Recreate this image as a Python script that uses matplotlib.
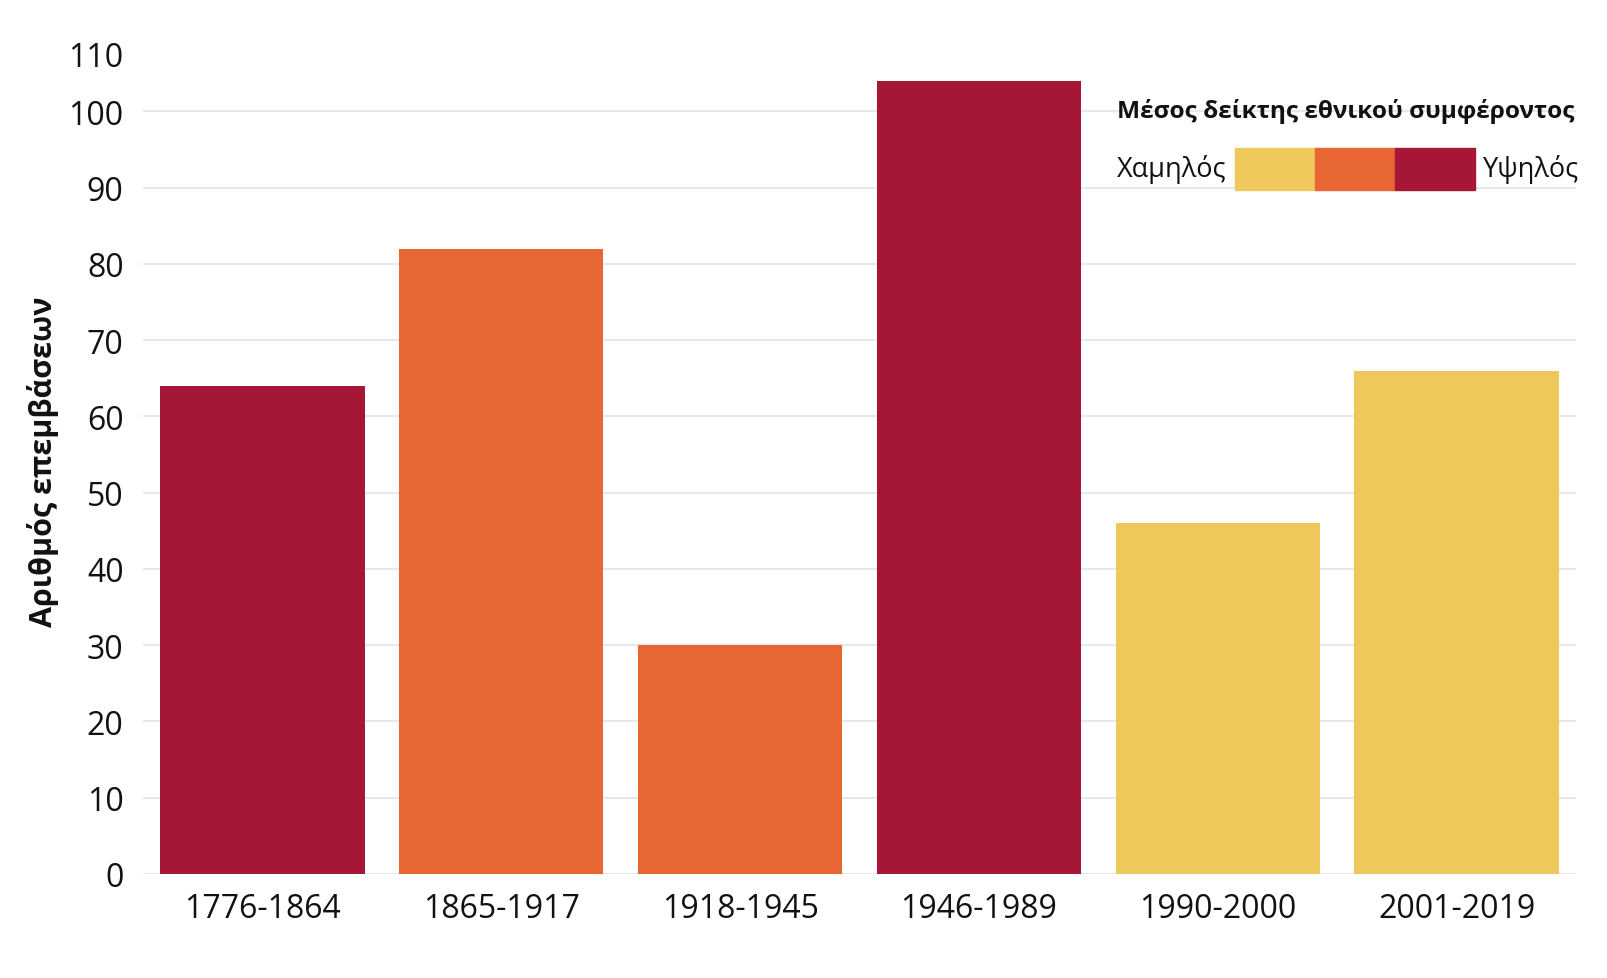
import matplotlib.pyplot as plt
import matplotlib.transforms as mtransforms
from matplotlib.patches import Rectangle

plt.rcParams['font.family'] = ['Open Sans', 'DejaVu Sans']

# data
periods = ['1776-1864', '1865-1917', '1918-1945', '1946-1989', '1990-2000', '2001-2019']
interventions = [64, 82, 30, 104, 46, 66]
interest_level = ['high', 'mid', 'mid', 'high', 'low', 'low']
palette = {'low': '#EEC85A', 'mid': '#E86534', 'high': '#A61637'}
y_ticks = [0, 10, 20, 30, 40, 50, 60, 70, 80, 90, 100, 110]

W, H = 1607, 979
fig = plt.figure(figsize=(W / 100, H / 100), dpi=100)
ax = fig.add_axes([143 / W, 104 / H, 1433 / W, 839 / H])

x = range(len(periods))
ax.bar(x, interventions, width=0.855, color=[palette[c] for c in interest_level], zorder=2)

ax.set_xlim(-0.5, len(periods) - 0.5)
ax.set_ylim(0, 110)
ax.set_yticks(y_ticks)
ax.set_xticks(list(x))
ax.set_xticklabels(periods)
ax.tick_params(axis='both', length=0, labelsize=23, colors='#111111')
ax.tick_params(axis='x', pad=13)
ax.tick_params(axis='y', pad=14)

ax.grid(axis='y', color='#e8e8e8', linewidth=1.5, zorder=0)
ax.set_axisbelow(True)
ax.yaxis.get_gridlines()[-1].set_visible(False)
for s in ax.spines.values():
    s.set_visible(False)

# top label sits lower, like the original
top_lab = ax.get_yticklabels()[-1]
top_lab.set_transform(top_lab.get_transform() +
                      mtransforms.ScaledTranslation(0, -0.18, fig.dpi_scale_trans))

fig.text(43 / W, 1 - 462 / H, 'Αριθμός επεμβάσεων', rotation=90, fontsize=22,
         fontweight='bold', ha='center', va='center', color='#111111')

# legend
fig.text(1117 / W, 1 - 112 / H, 'Μέσος δείκτης εθνικού συμφέροντος', fontsize=17.6,
         fontweight='bold', ha='left', va='center', color='#111111')
fig.text(1117 / W, 1 - 170 / H, 'Χαμηλός', fontsize=19.5, ha='left', va='center', color='#111111')
fig.text(1579 / W, 1 - 170 / H, 'Υψηλός', fontsize=19.5, ha='right', va='center', color='#111111')
for i, lvl in enumerate(['low', 'mid', 'high']):
    fig.patches.append(Rectangle(((1235 + i * 80) / W, 1 - 191 / H), 80 / W, 42 / H,
                                 transform=fig.transFigure, color=palette[lvl]))

fig.savefig('out.png', dpi=100, facecolor='white')
